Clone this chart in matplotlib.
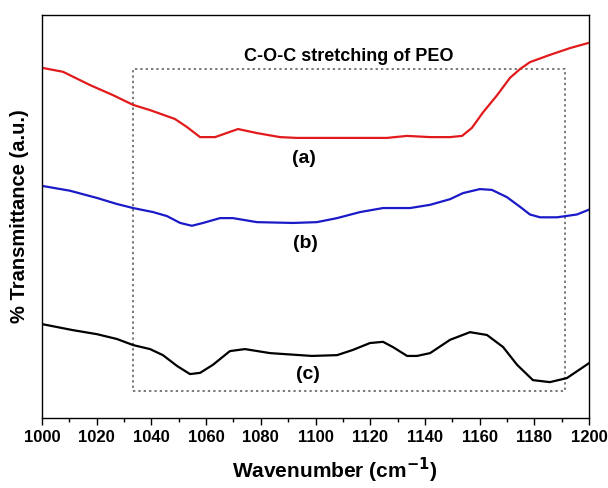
import matplotlib
matplotlib.use("Agg")
import matplotlib.pyplot as plt
from matplotlib.ticker import MultipleLocator
from matplotlib.patches import Rectangle

plt.rcParams['font.family'] = ['Liberation Sans', 'DejaVu Sans']

# Spectrum (a) - red
wn_a = [1000, 1007.7, 1017.6, 1026.0, 1033.3, 1039.5, 1048.6, 1053.0, 1057.8, 1063.3,
        1068.7, 1071.7, 1078.6, 1087.0, 1093.2, 1107.9, 1126.1, 1133.5, 1141.9, 1149.2,
        1153.6, 1157.2, 1161.2, 1166.4, 1171.1, 1174.8, 1178.4, 1185.7, 1193.1, 1200]
t_a = [86.9, 85.9, 82.6, 80.1, 77.7, 76.4, 74.2, 72.2, 69.7, 69.7,
       71.0, 71.7, 70.7, 69.7, 69.5, 69.5, 69.5, 70.0, 69.7, 69.7,
       70.0, 72.0, 75.8, 80.1, 84.4, 86.6, 88.3, 90.1, 91.8, 93.1]

# Spectrum (b) - blue
wn_b = [1000, 1010.2, 1020.1, 1027.4, 1033.3, 1040.6, 1045.7, 1050.5, 1054.8, 1058.9,
        1065.1, 1069.8, 1078.6, 1091.8, 1100.5, 1107.9, 1116.3, 1124.7, 1134.6, 1141.9,
        1149.2, 1153.9, 1160.1, 1164.5, 1170.0, 1174.8, 1178.4, 1182.1, 1188.3, 1195.6, 1200]
t_b = [57.6, 56.4, 54.6, 53.1, 52.1, 51.1, 50.1, 48.4, 47.7, 48.4,
       49.6, 49.6, 48.6, 48.4, 48.6, 49.6, 51.1, 52.1, 52.1, 52.9,
       54.3, 55.8, 56.8, 56.6, 54.8, 52.4, 50.5, 49.8, 49.8, 50.5, 51.7]

# Spectrum (c) - black
wn_c = [1000, 1011.3, 1020.1, 1027.4, 1033.3, 1039.5, 1044.2, 1049.4, 1054.1, 1057.8,
        1062.5, 1068.7, 1074.2, 1083.4, 1098.7, 1107.9, 1113.7, 1119.9, 1124.7, 1128.3,
        1133.5, 1137.1, 1141.9, 1149.2, 1156.5, 1162.7, 1168.6, 1173.7, 1179.5, 1185.7,
        1191.9, 1200]
t_c = [23.3, 21.8, 20.8, 19.6, 18.1, 17.1, 15.6, 12.9, 10.9, 11.2,
       13.2, 16.6, 17.1, 16.1, 15.4, 15.6, 16.9, 18.6, 18.9, 17.6,
       15.4, 15.4, 16.1, 19.4, 21.3, 20.6, 17.6, 13.2, 9.4, 8.9,
       9.9, 13.6]

labels = ["(a)", "(b)", "(c)"]
label_x = [1095.8, 1096.2, 1097.1]
label_y = [64.5, 43.2, 10.9]
box_x = [1033.2, 1191.2]
box_y = [6.8, 86.5]
annot_text = "C-O-C stretching of PEO"
annot_pos = (1112.2, 89.8)
xticks = [1000, 1020, 1040, 1060, 1080, 1100, 1120, 1140, 1160, 1180, 1200]

fig = plt.figure(figsize=(6.08, 4.88), dpi=100)
ax = fig.add_axes([42/608, 70/488, 547/608, 403/488])

ax.plot(wn_a, t_a, color='#e31a1c', lw=1.6)
ax.plot(wn_b, t_b, color='#1a1ac8', lw=1.6)
ax.plot(wn_c, t_c, color='black', lw=1.6)

ax.add_patch(Rectangle((box_x[0], box_y[0]), box_x[1]-box_x[0], box_y[1]-box_y[0],
                       fill=False, ec='#555555', lw=1.1, ls=(0, (1.5, 2.0))))

for lab, x, y in zip(labels, label_x, label_y):
    ax.text(x, y, lab, ha='center', va='center', fontsize=14, fontweight='bold')
ax.text(annot_pos[0], annot_pos[1], annot_text, ha='center', va='center',
        fontsize=13, fontweight='bold')

ax.set_xlim(1000, 1200)
ax.set_ylim(0, 100)
ax.set_xticks(xticks)
ax.xaxis.set_minor_locator(MultipleLocator(10))
ax.tick_params(axis='x', which='major', direction='out', length=5, width=1, labelsize=12, pad=4)
ax.tick_params(axis='x', which='minor', direction='out', length=3, width=1)
ax.set_yticks([])
for lbl in ax.get_xticklabels():
    lbl.set_fontweight('bold')
for s in ax.spines.values():
    s.set_linewidth(1.0)

ax.set_xlabel("Wavenumber (cm$^{\\mathbf{-1}}$)", fontsize=15, fontweight='bold')
ax.xaxis.set_label_coords(0.535, -0.095)
ax.set_ylabel("% Transmittance (a.u.)", fontsize=14.5, fontweight='bold')
ax.yaxis.set_label_coords(-0.024, 0.5)

fig.savefig("out.png", dpi=100)
